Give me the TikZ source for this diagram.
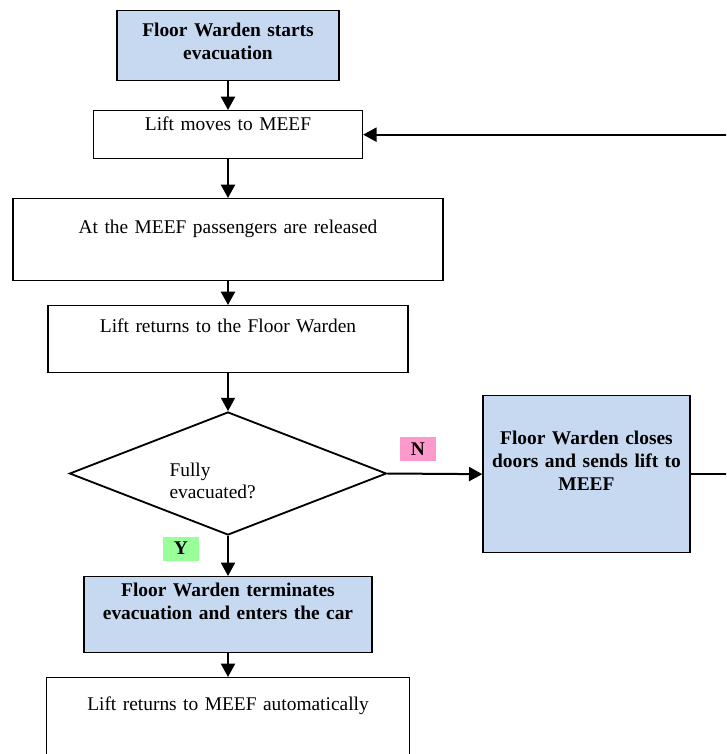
\documentclass[tikz,border=0pt]{standalone}
\usepackage{fontspec}
\setmainfont{Liberation Serif}
\usepackage{tikz}
\usetikzlibrary{arrows.meta,shapes.geometric}
\definecolor{wardenblue}{HTML}{C6D9F1}
\definecolor{nopink}{HTML}{FF99CC}
\definecolor{yesgreen}{HTML}{99FF99}

\begin{document}
\begin{tikzpicture}[x=0.6pt,y=0.6pt,
  font=\fontsize{11.65}{13.6}\selectfont,
  stepbox/.style={draw=black,line width=0.8pt,anchor=north,align=center,inner xsep=3pt,inner ysep=3pt},
  warden/.style={stepbox,fill=wardenblue,font=\fontsize{11.65}{13.6}\selectfont\bfseries},
  ask/.style={draw=black,diamond,line width=1.1pt,inner sep=0pt,shape aspect=2.58,minimum width=190.2pt,minimum height=73.8pt},
  tag/.style={font=\fontsize{11.65}{13.6}\selectfont\bfseries,minimum width=21.6pt,minimum height=14.4pt,inner sep=0pt},
  flow/.style={line width=1.2pt,-{Triangle[length=8pt,width=8.4pt]}}]
\useasboundingbox (0,0) rectangle (726,-754);
\clip (0,0) rectangle (726,-754);
\node [warden,text width=127.2pt,text height=12.6pt,text depth=23.4pt] (start) at (228,-10) {Floor Warden starts\\evacuation};
\node [stepbox,text width=155.4pt,text height=9pt,text depth=13.8pt] (lift) at (228,-110) {Lift moves to MEEF};
\node [stepbox,text width=252pt,text height=18pt,text depth=25.2pt] (release) at (228,-198) {At the MEEF passengers are released};
\node [stepbox,text width=210pt,text height=13.2pt,text depth=21pt] (back) at (228,-305) {Lift returns to the Floor Warden};
\node [ask,text width=70.2pt,align=left,text height=8pt,text depth=5pt] (ask) at (228,-473.5) {Fully\\evacuated?};
\node [warden,text width=118.2pt,text height=26.4pt,text depth=61.8pt] (closes) at (586.5,-395) {Floor Warden closes\\doors and sends lift to\\MEEF};
\node [warden,text width=166.8pt,text height=9pt,text depth=30.6pt] (stop) at (228,-576) {Floor Warden terminates\\evacuation and enters the car};
\node [stepbox,text width=211.8pt,text height=16.8pt,text depth=49.2pt] (auto) at (228,-677) {Lift returns to MEEF automatically};
\node [tag,fill=nopink] (no) at (418,-449) {N};
\node [tag,fill=yesgreen] (yes) at (181,-548.5) {Y};
\coordinate (edge) at (745,0);
\draw [flow] (start.south) -- (lift.north);
\draw [flow] (lift.south) -- (release.north);
\draw [flow] (release.south) -- (back.north);
\draw [flow] (back.south) -- (ask.north);
\draw [flow] (ask.east) -- (closes.west);
\draw [flow] (ask.south) -- (stop.north);
\draw [flow] (stop.south) -- (auto.north);
\draw [flow] (closes.east) -- (closes.east -| edge) |- (lift.east);
\end{tikzpicture}
\end{document}
